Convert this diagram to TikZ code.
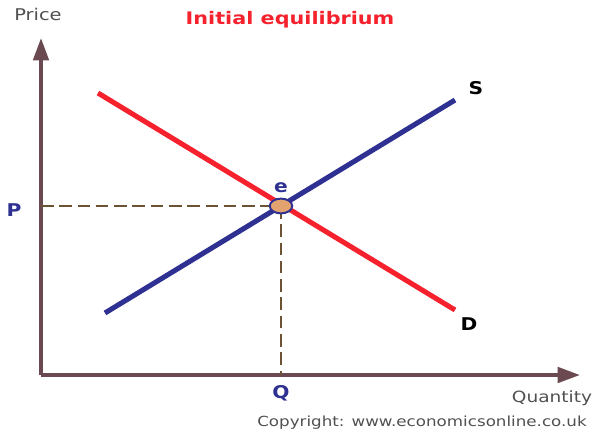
\documentclass[tikz,border=0pt]{standalone}
\usepackage{fontspec}
\setmainfont{DejaVu Sans}
\usepackage{xcolor}
\definecolor{cRed}  {HTML}{F5222D}
\definecolor{cBlue} {HTML}{2E3192}
\definecolor{cAxis} {HTML}{6A4A50}
\definecolor{cDash} {HTML}{6B5333}
\definecolor{cDot}  {HTML}{E3A36E}
\definecolor{cGrey} {HTML}{505050}
\usetikzlibrary{arrows.meta, positioning, shapes.geometric}
\tikzset{
  axis/.style   = {-{Triangle[length=16pt, width=11pt]}, draw=cAxis,
                   line width=2.6pt},
  curve/.style  = {line width=3.6pt, draw=#1},
  guide/.style  = {dashed, dash pattern=on 9pt off 4pt, draw=cDash,
                   line width=0.9pt},
  lbl/.style    = {font=\bfseries\fontsize{12.5}{14}\selectfont,
                   text=#1, inner sep=1pt, xscale=1.15},
  lbl/.default  = cBlue,
  txt/.style    = {font=\fontsize{#1}{13}\selectfont, text=cGrey,
                   inner sep=1pt, xscale=1.2},
  eqdot/.style  = {ellipse, minimum width=16pt, minimum height=10.5pt,
                   inner sep=0pt, draw=cBlue, line width=1.4pt, fill=cDot},
}

\begin{document}
\begin{tikzpicture}[x=0.025cm, y=-0.025cm]
  \useasboundingbox (0,0) rectangle (600,434);

  %% --- Axes ---
  \coordinate (O)    at (41,375);
  \coordinate (ytop) at (41,38);
  \coordinate (xend) at (580,375);
  \draw[axis] (O) -- (ytop);
  \draw[axis] (O) -- (xend);

  %% --- Supply and demand ---
  \coordinate (d1) at (98,93);
  \coordinate (d2) at (455,310);
  \coordinate (s1) at (105,313);
  \coordinate (s2) at (455,100);
  \draw[curve=cRed]  (d1) -- (d2);
  \draw[curve=cBlue] (s1) -- (s2);

  %% --- Equilibrium ---
  \coordinate (eq) at (281,206);
  \coordinate (pax) at (O |- eq);
  \coordinate (qax) at (O -| eq);
  \draw[guide] (pax) -- (eq);
  \draw[guide] (eq) -- (qax);
  \node[eqdot] (e) at (eq) {};

  %% --- Labels ---
  \node[lbl, above=2pt of e]              (elbl) {e};
  \node[lbl] at (14,210)                  (plbl) {P};
  \node[lbl] at (281,393)                 (qlbl) {Q};
  \node[lbl=black] at (476,88)            (slbl) {S};
  \node[lbl=black] at (469,324)           (dlbl) {D};
  \node[lbl=cRed, font=\bfseries\fontsize{12.3}{14}\selectfont,
        xscale=1.2/1.15] at (290,20) (title) {Initial equilibrium};
  \node[txt=11.5] at (38,14)              (price) {Price};
  \node[txt=11]   at (552,398)            (qty)   {Quantity};
  \node[txt=9.9]  at (422,423)            (copy)
        {Copyright: www.economicsonline.co.uk};

\end{tikzpicture}
\end{document}
